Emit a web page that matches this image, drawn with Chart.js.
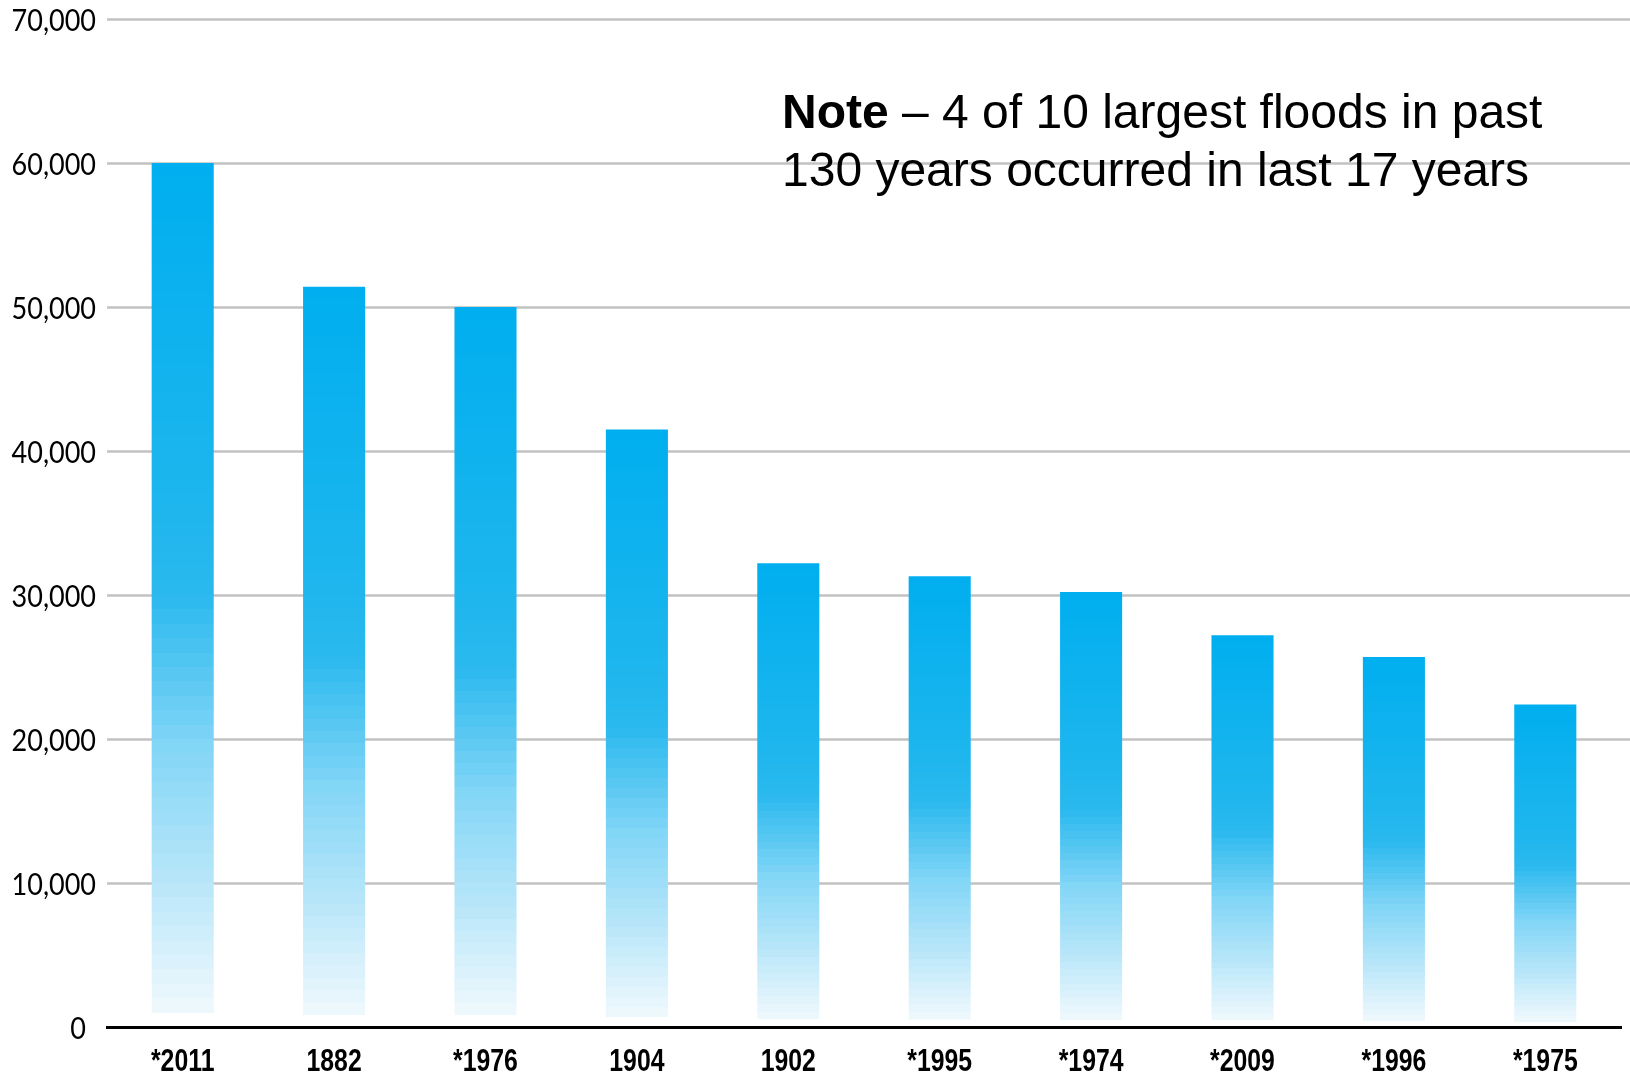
<!DOCTYPE html>
<html>
<head>
<meta charset="utf-8">
<title>Largest floods</title>
<script src="https://cdn.jsdelivr.net/npm/chart.js@4.4.1/dist/chart.umd.min.js"></script>
<style>
  html, body { margin: 0; padding: 0; background: #ffffff; }
  #wrap { width: 1630px; height: 1074px; }
</style>
</head>
<body>
<div id="wrap"><canvas id="floods" width="1630" height="1074"></canvas></div>
<script>
// Flood years, ranked by peak flow
const categories = ['*2011', '1882', '*1976', '1904', '1902', '*1995', '*1974', '*2009', '*1996', '*1975'];
const peakFlow = [60000, 51400, 50000, 41500, 32200, 31300, 30200, 27200, 25700, 22400];

// Value axis
const yMin = 0;
const yMax = 70000;
const yStep = 10000;

// Annotation text
const noteBold = 'Note';
const noteLine1 = ' \u2013 4 of 10 largest floods in past';
const noteLine2 = '130 years occurred in last 17 years';

// Colour ramp from the foot of a bar (0) to its top (1)
const ramp = [
  [0.00, [246, 251, 254]],
  [0.17, [184, 230, 249]],
  [0.33, [128, 213, 246]],
  [0.40, [92, 201, 243]],
  [0.50, [42, 185, 238]],
  [0.60, [30, 182, 238]],
  [1.00, [0, 174, 239]]
];

function rampColor(t) {
  for (let i = 1; i < ramp.length; i++) {
    if (t <= ramp[i][0]) {
      const [t0, c0] = ramp[i - 1];
      const [t1, c1] = ramp[i];
      const k = (t - t0) / (t1 - t0);
      const c = c0.map((v, j) => Math.round(v + (c1[j] - v) * k));
      return `rgb(${c[0]},${c[1]},${c[2]})`;
    }
  }
  const c = ramp[ramp.length - 1][1];
  return `rgb(${c[0]},${c[1]},${c[2]})`;
}

// Banded vertical fade for each bar, scaled to that bar's height
function barFill(context) {
  const chart = context.chart;
  if (!chart.chartArea || context.raw == null) return '#00aeef';
  const y = chart.scales.y;
  const top = y.getPixelForValue(context.raw);
  const base = y.getPixelForValue(0);
  const g = chart.ctx.createLinearGradient(0, base, 0, top);
  const bands = 60;
  for (let b = 0; b < bands; b++) {
    const t0 = b / bands;
    const t1 = (b + 1) / bands;
    const col = b === 0 ? 'rgba(255,255,255,0)' : rampColor((t0 + t1) / 2);
    g.addColorStop(t0, col);
    g.addColorStop(Math.min(1, t1 - 0.0001), col);
  }
  g.addColorStop(1, rampColor(1));
  return g;
}

// Horizontal guide lines that run on to the right edge of the canvas
const guideLines = {
  id: 'guideLines',
  beforeDatasetsDraw(chart) {
    const { ctx, chartArea, scales } = chart;
    ctx.save();
    ctx.strokeStyle = '#c2c2c2';
    ctx.lineWidth = 2.5;
    scales.y.ticks.forEach(t => {
      if (t.value === 0) return;
      const py = Math.round(scales.y.getPixelForValue(t.value)) + 0.5;
      ctx.beginPath();
      ctx.moveTo(chartArea.left, py);
      ctx.lineTo(chart.width, py);
      ctx.stroke();
    });
    ctx.restore();
  }
};

// Axis labels: narrowed bold years below the baseline, figures on the left
const axisLabels = {
  id: 'axisLabels',
  afterDraw(chart) {
    const { ctx, scales } = chart;
    const xs = scales.x;
    const ys = scales.y;

    ctx.save();
    ctx.fillStyle = '#000000';
    ctx.textBaseline = 'alphabetic';
    ctx.textAlign = 'center';
    ctx.font = 'bold 31px "Liberation Sans", Arial, sans-serif';
    const sx = 0.8;
    ctx.scale(sx, 1);
    const xBase = xs.top + 44;
    categories.forEach((lab, i) => {
      ctx.fillText(lab, xs.getPixelForTick(i) / sx, xBase);
    });
    ctx.restore();

    ctx.save();
    ctx.fillStyle = '#000000';
    ctx.textBaseline = 'alphabetic';
    ctx.textAlign = 'right';
    ctx.font = '30px Lato, "Open Sans", sans-serif';
    const sy = 0.9;
    ctx.scale(sy, 1);
    ys.ticks.forEach(t => {
      const py = ys.getPixelForValue(t.value);
      const right = t.value === 0 ? 86 : 96;
      ctx.fillText(t.value.toLocaleString('en-US'), right / sy, py + 12);
    });
    ctx.restore();
  }
};

// Two-line note in the upper right
const noteText = {
  id: 'noteText',
  afterDraw(chart) {
    const ctx = chart.ctx;
    ctx.save();
    ctx.fillStyle = '#000000';
    ctx.textBaseline = 'alphabetic';
    ctx.textAlign = 'left';
    const x = 782;
    ctx.font = 'bold 48px "Liberation Sans", Arial, sans-serif';
    ctx.fillText(noteBold, x, 128);
    const w = ctx.measureText(noteBold).width;
    ctx.font = '48px "Liberation Sans", Arial, sans-serif';
    ctx.fillText(noteLine1, x + w, 128);
    ctx.fillText(noteLine2, x, 186);
    ctx.restore();
  }
};

new Chart(document.getElementById('floods'), {
  type: 'bar',
  data: {
    labels: categories,
    datasets: [{
      label: 'Peak flow',
      data: peakFlow,
      backgroundColor: barFill,
      borderWidth: 0,
      barPercentage: 0.41,
      categoryPercentage: 1.0
    }]
  },
  options: {
    responsive: false,
    animation: false,
    devicePixelRatio: 1,
    layout: { padding: { top: 19, right: 9, left: 0, bottom: 0 } },
    plugins: {
      legend: { display: false },
      tooltip: { enabled: false },
      title: { display: false }
    },
    scales: {
      x: {
        offset: true,
        grid: { display: false, drawTicks: false },
        border: { display: true, color: '#000000', width: 3 },
        ticks: { display: false },
        afterFit(scale) { scale.height = 47; }
      },
      y: {
        min: yMin,
        max: yMax,
        grid: { display: false, drawTicks: false },
        border: { display: false },
        ticks: { display: false, stepSize: yStep },
        afterFit(scale) { scale.width = 107; }
      }
    }
  },
  plugins: [guideLines, axisLabels, noteText]
});
</script>
</body>
</html>
